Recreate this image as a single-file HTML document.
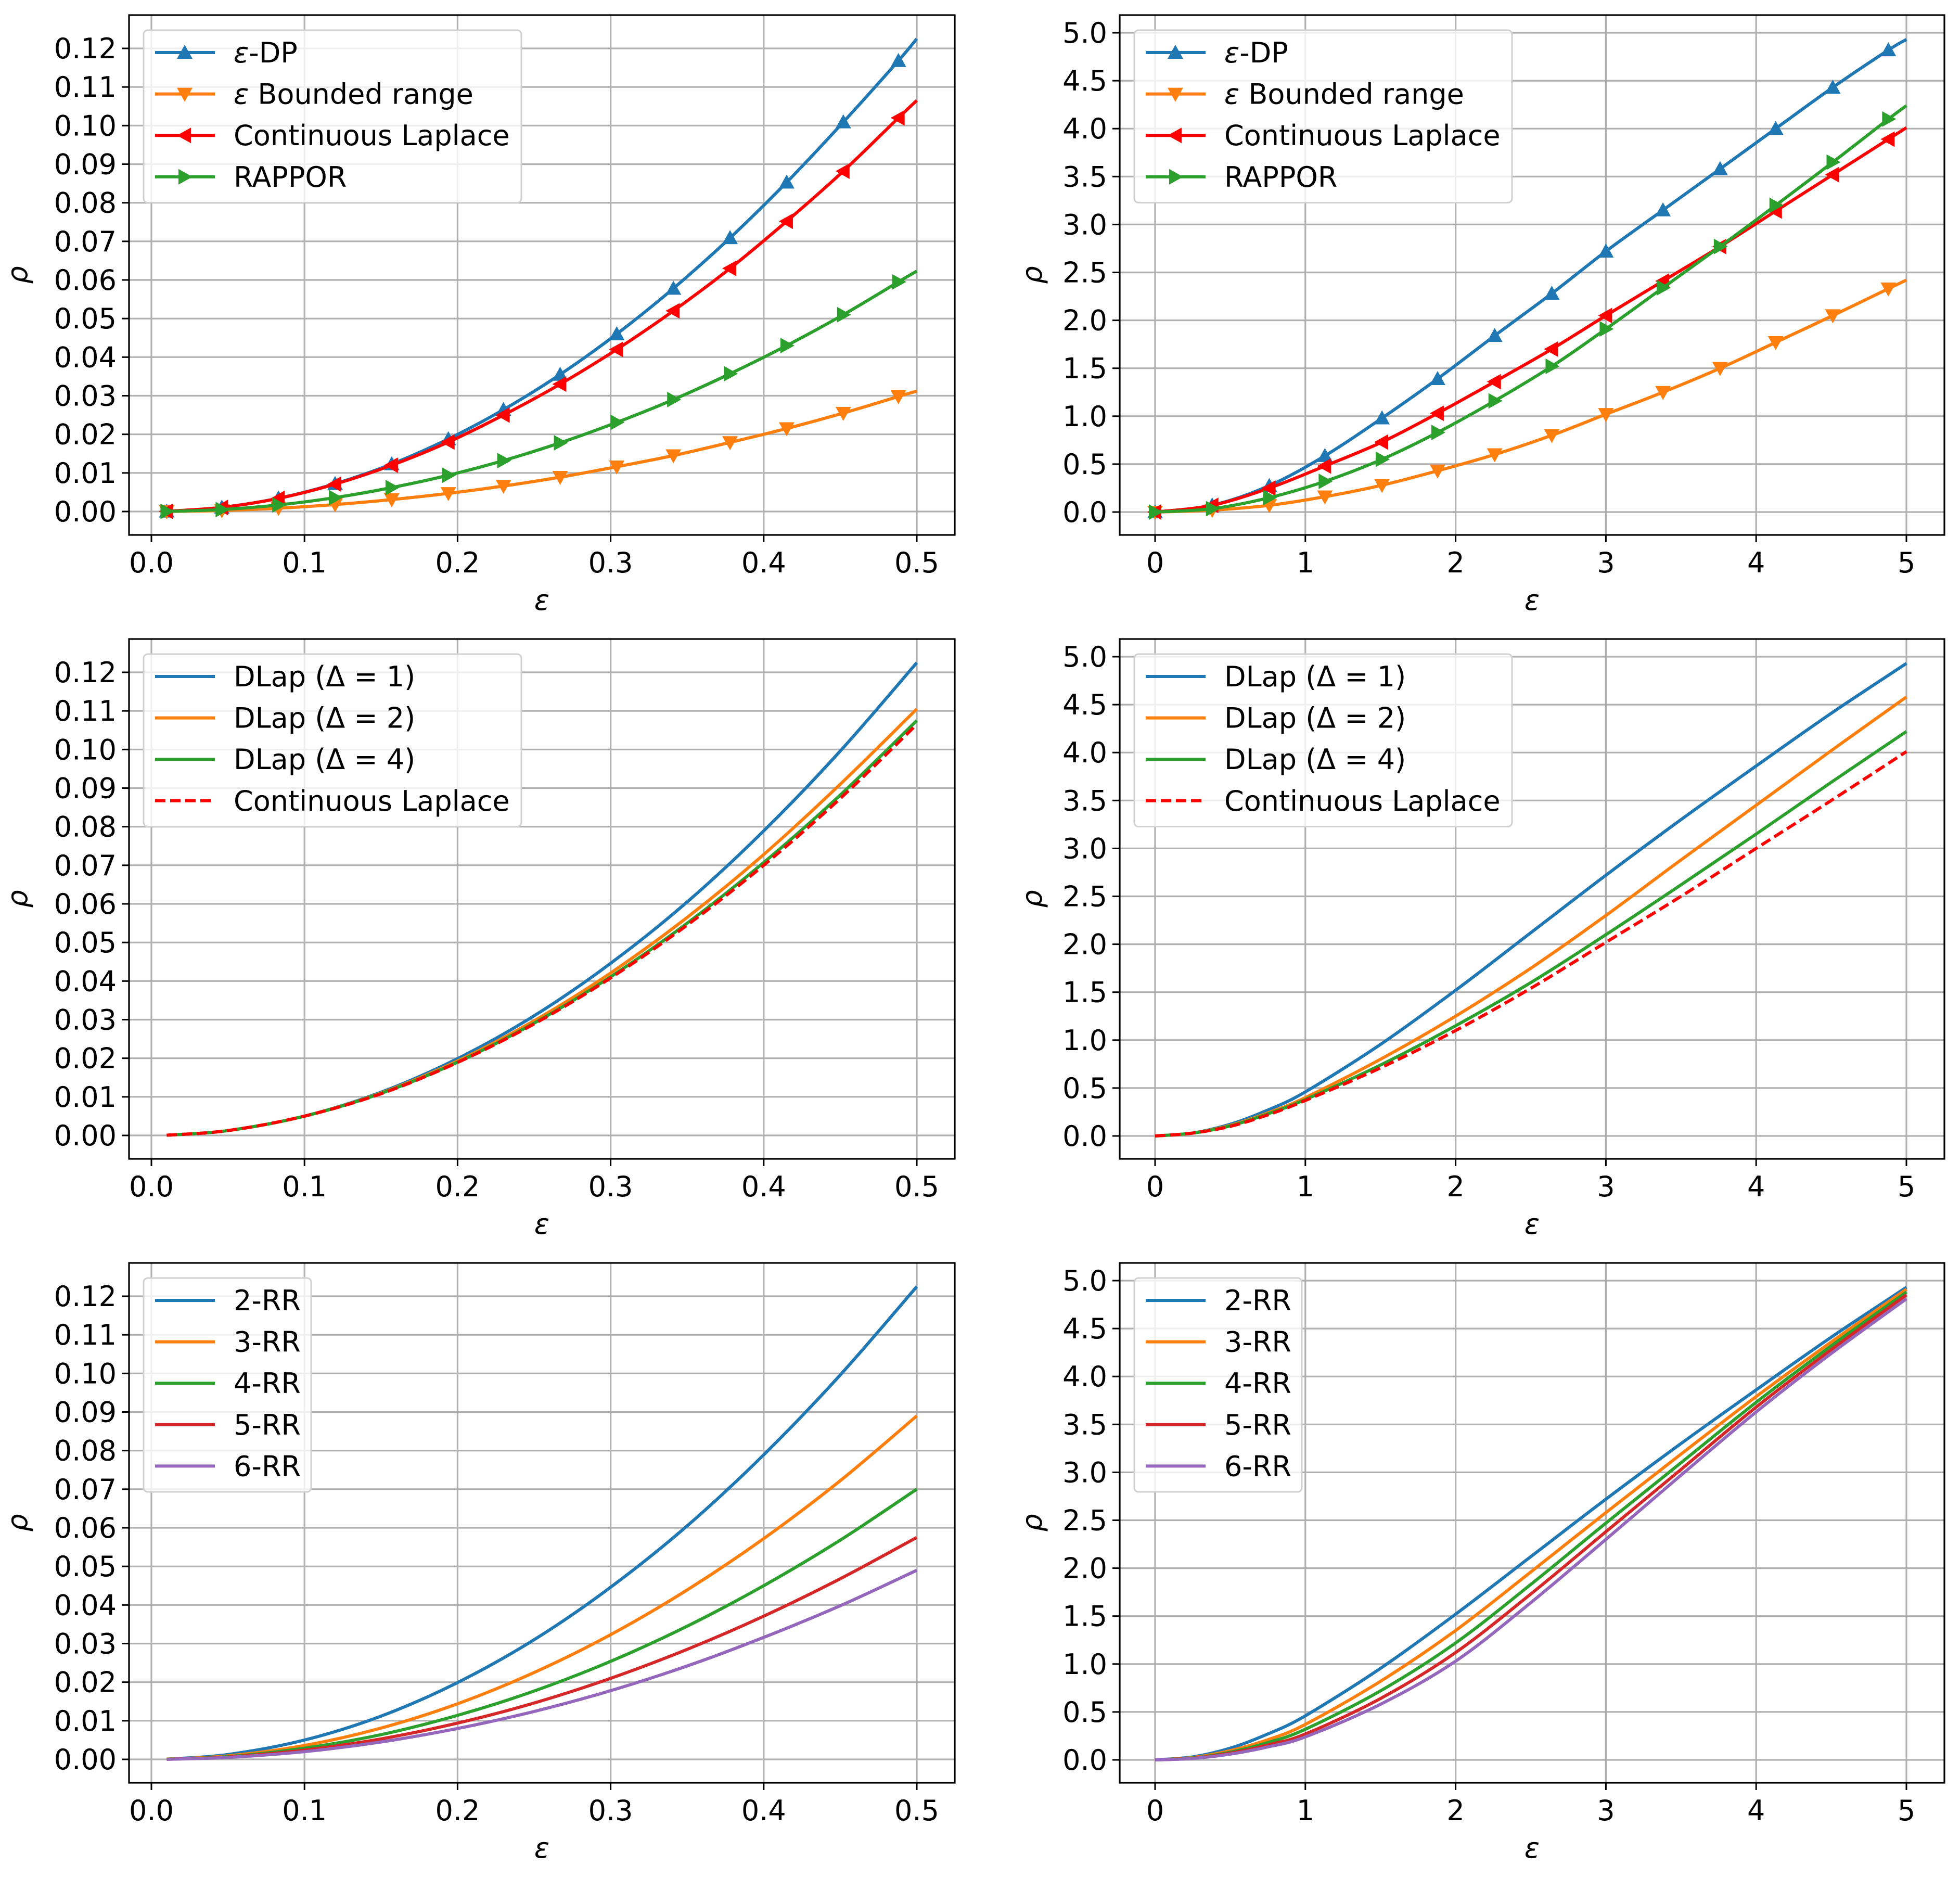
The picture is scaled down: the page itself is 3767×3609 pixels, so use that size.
<!DOCTYPE html>
<html><head><meta charset="utf-8"><style>
html,body{margin:0;padding:0;background:#fff}
svg{display:block;font-family:"DejaVu Sans","Liberation Sans",sans-serif}
</style></head><body>
<svg id="fig" width="3767" height="3609" viewBox="0 0 3767 3609" xmlns="http://www.w3.org/2000/svg"></svg>
<script>
// ---- data ----
const xSmallMk = [0.01,0.046,0.083,0.12,0.157,0.194,0.23,0.267,0.304,0.341,0.378,0.415,0.452,0.488,0.5];
const tlEpsDP = [0.00005,0.00106,0.00344,0.0072,0.0123,0.0188,0.0264,0.0355,0.0460,0.0578,0.0709,0.0853,0.1009,0.1168,0.1225];
const tlBounded = [0.00001,0.00026,0.00086,0.0018,0.0031,0.0047,0.0066,0.0089,0.0116,0.0145,0.0179,0.0215,0.0255,0.0298,0.0312];
const tlLaplace = [0.00005,0.00106,0.0034,0.0071,0.0120,0.0180,0.0250,0.0330,0.0420,0.0520,0.0630,0.0752,0.0882,0.1020,0.1065];
const tlRappor = [0.00003,0.0005,0.0017,0.0036,0.0062,0.0094,0.0132,0.0178,0.0231,0.0290,0.0357,0.0430,0.0510,0.0595,0.0623];
const xLargeMk = [0,0.38,0.76,1.13,1.51,1.88,2.26,2.64,3.0,3.38,3.76,4.13,4.51,4.88,5];
const trEpsDP = [0,0.0714,0.275,0.587,0.98,1.39,1.84,2.28,2.72,3.15,3.58,4.00,4.43,4.82,4.93];
const trBounded = [0,0.02,0.07,0.16,0.28,0.43,0.60,0.80,1.02,1.25,1.50,1.77,2.05,2.33,2.42];
const trLaplace = [0,0.07,0.25,0.48,0.73,1.03,1.36,1.70,2.05,2.41,2.77,3.14,3.52,3.89,4.01];
const trRappor = [0,0.035,0.15,0.32,0.55,0.83,1.16,1.52,1.91,2.34,2.77,3.20,3.65,4.10,4.24];
const xSmall = [0.01,0.05,0.1,0.15,0.2,0.25,0.3,0.35,0.4,0.45,0.5];
const mlD1 = [0.00005,0.00125,0.005,0.0112,0.0199,0.0310,0.0446,0.0605,0.0789,0.0996,0.1225];
const mlD2 = [0.00005,0.00125,0.005,0.0110,0.0193,0.0297,0.0421,0.0565,0.0728,0.0910,0.1105];
const mlD4 = [0.00005,0.00125,0.005,0.0109,0.0190,0.0291,0.0411,0.0550,0.0707,0.0882,0.1075];
const mlLap = [0.00005,0.00125,0.005,0.0108,0.0189,0.0289,0.0408,0.0545,0.0700,0.0873,0.1065];
const xLarge = [0,0.25,0.5,0.75,1,1.5,2,2.5,3,3.5,4,4.5,5];
const mrD1 = [0,0.031,0.122,0.27,0.46,0.955,1.52,2.12,2.72,3.30,3.86,4.41,4.93];
const mrD2 = [0,0.03,0.11,0.24,0.40,0.80,1.25,1.75,2.30,2.88,3.45,4.02,4.58];
const mrD4 = [0,0.03,0.105,0.23,0.38,0.74,1.15,1.60,2.10,2.62,3.15,3.69,4.22];
const mrLap = [0,0.03,0.10,0.22,0.37,0.71,1.10,1.54,2.02,2.50,3.00,3.50,4.01];
const blRR2 = [0.00005,0.00125,0.005,0.0112,0.0199,0.0310,0.0446,0.0605,0.0789,0.0996,0.1225];
const blRR3 = [0.00004,0.0009,0.0036,0.0081,0.0144,0.0225,0.0323,0.0439,0.0572,0.0722,0.0890];
const blRR4 = [0.00003,0.0007,0.0029,0.0064,0.0114,0.0177,0.0254,0.0345,0.0450,0.0568,0.0700];
const blRR5 = [0.00002,0.0006,0.0024,0.0053,0.0094,0.0146,0.0210,0.0285,0.0371,0.0468,0.0575];
const blRR6 = [0.00002,0.0005,0.0020,0.0045,0.0080,0.0124,0.0178,0.0242,0.0316,0.0398,0.0490];
const brRR2 = [0,0.031,0.122,0.27,0.46,0.955,1.52,2.12,2.72,3.30,3.86,4.41,4.93];
const brRR3 = [0,0.024,0.096,0.21,0.37,0.82,1.35,1.96,2.58,3.19,3.79,4.36,4.91];
const brRR4 = [0,0.02,0.08,0.18,0.32,0.72,1.22,1.83,2.47,3.10,3.73,4.32,4.88];
const brRR5 = [0,0.017,0.07,0.155,0.27,0.64,1.12,1.73,2.38,3.03,3.68,4.28,4.85];
const brRR6 = [0,0.015,0.06,0.135,0.24,0.58,1.03,1.64,2.30,2.97,3.63,4.24,4.81];
const yTicksSmall = [0,0.01,0.02,0.03,0.04,0.05,0.06,0.07,0.08,0.09,0.10,0.11,0.12];
const yTickLabelsSmall = ["0.00","0.01","0.02","0.03","0.04","0.05","0.06","0.07","0.08","0.09","0.10","0.11","0.12"];
const yTicksLarge = [0,0.5,1,1.5,2,2.5,3,3.5,4,4.5,5];
const yTickLabelsLarge = ["0.0","0.5","1.0","1.5","2.0","2.5","3.0","3.5","4.0","4.5","5.0"];
const xTicksSmall = [0,0.1,0.2,0.3,0.4,0.5];
const xTickLabelsSmall = ["0.0","0.1","0.2","0.3","0.4","0.5"];
const xTicksLarge = [0,1,2,3,4,5];
const xTickLabelsLarge = ["0","1","2","3","4","5"];

const C = {blue:"#1f77b4",orange:"#ff7f0e",green:"#2ca02c",red:"#ff0000",red2:"#d62728",purple:"#9467bd"};
const NS = "http://www.w3.org/2000/svg";
const FS = 54;
const svg = document.getElementById('fig');
function mk(tag, attrs, parent){const e=document.createElementNS(NS,tag);for(const k in attrs)e.setAttribute(k,attrs[k]);(parent||svg).appendChild(e);return e;}

function smoothPath(pts){
  let d="M"+pts[0][0].toFixed(1)+","+pts[0][1].toFixed(1);
  for(let i=0;i<pts.length-1;i++){
    const p0=pts[Math.max(0,i-1)],p1=pts[i],p2=pts[i+1],p3=pts[Math.min(pts.length-1,i+2)];
    const c1=[p1[0]+(p2[0]-p0[0])/6,p1[1]+(p2[1]-p0[1])/6];
    const c2=[p2[0]-(p3[0]-p1[0])/6,p2[1]-(p3[1]-p1[1])/6];
    d+=" C"+c1[0].toFixed(1)+","+c1[1].toFixed(1)+" "+c2[0].toFixed(1)+","+c2[1].toFixed(1)+" "+p2[0].toFixed(1)+","+p2[1].toFixed(1);
  }
  return d;
}
function marker(type,x,y,color,g){
  const s=15;let pts;
  if(type==='up')pts=[[x,y-s],[x-s,y+s*0.8],[x+s,y+s*0.8]];
  else if(type==='down')pts=[[x,y+s],[x-s,y-s*0.8],[x+s,y-s*0.8]];
  else if(type==='left')pts=[[x-s,y],[x+s*0.8,y-s],[x+s*0.8,y+s]];
  else pts=[[x+s,y],[x-s*0.8,y-s],[x-s*0.8,y+s]];
  const m=mk('polygon',{points:pts.map(p=>p.join(',')).join(' '),fill:color},g);
  
  
}

function panel(cfg){
  const L=cfg.left,R=cfg.right,T=cfg.top,B=T+999;
  const x0=cfg.x0px,x1=cfg.x1px,y0=T+cfg.y0off,y1=T+cfg.y1off;
  const sx=v=>x0+(v-cfg.xd[0])/(cfg.xd[1]-cfg.xd[0])*(x1-x0);
  const sy=v=>y0+(v-cfg.yd[0])/(cfg.yd[1]-cfg.yd[0])*(y1-y0);
  const g=mk('g',{});
  
  
  cfg.xt.forEach((v,i)=>{
    const l=mk('line',{x1:sx(v),x2:sx(v),y1:T,y2:B,stroke:"#b0b0b0","stroke-width":3.2},g);
    
    mk('line',{x1:sx(v),x2:sx(v),y1:B,y2:B+14,stroke:"#000","stroke-width":3},g);
    const t=mk('text',{x:sx(v),y:B+72,"font-size":FS,"text-anchor":"middle",fill:"#000"},g);
    t.textContent=cfg.xtl[i];
    
  });
  cfg.yt.forEach((v,i)=>{
    const l=mk('line',{x1:L,x2:R,y1:sy(v),y2:sy(v),stroke:"#b0b0b0","stroke-width":3.2},g);
    
    mk('line',{x1:L-14,x2:L,y1:sy(v),y2:sy(v),stroke:"#000","stroke-width":3},g);
    const t=mk('text',{x:L-24,y:sy(v)+19,"font-size":FS,"text-anchor":"end",fill:"#000"},g);
    t.textContent=cfg.ytl[i];
    
  });
  cfg.series.forEach(s=>{
    const pts=s.x.map((v,i)=>[sx(v),sy(s.y[i])]);
    const p=mk('path',{d:smoothPath(pts),fill:"none",stroke:s.c,"stroke-width":6,"stroke-dasharray":s.dash?"20,9":"none"},g);
    
    
    if(s.m){for(let i=0;i<pts.length-1;i++)marker(s.m,pts[i][0],pts[i][1],s.c,g);}
  });
  const fr=mk('rect',{x:L,y:T,width:R-L,height:B-T,fill:"none",stroke:"#000","stroke-width":3.2},g);
  
  const xl=mk('text',{x:(L+R)/2,y:B+144,"font-size":FS,"font-style":"italic","text-anchor":"middle"},g);
  xl.textContent="ε";
  const yl=mk('text',{x:0,y:0,"font-size":FS,"font-style":"italic","text-anchor":"middle",transform:`translate(${L-cfg.ylOff},${(T+B)/2}) rotate(-90)`},g);
  yl.textContent="ρ";
  const n=cfg.series.length;
  const lg=mk('g',{},g);
  
  const lx=L+28,ly=T+29;
  mk('rect',{x:lx,y:ly,width:cfg.legW,height:13+n*79.6,rx:8,fill:"#fff","fill-opacity":0.8,stroke:"#d0d0d0","stroke-width":3},lg);
  cfg.series.forEach((s,i)=>{
    const yy=ly+43+i*79.6;
    const e=mk('g',{},lg);
    
    
    mk('line',{x1:lx+22,x2:lx+137,y1:yy,y2:yy,stroke:s.c,"stroke-width":6,"stroke-dasharray":s.dash?"20,9":"none"},e);
    if(s.m)marker(s.m,lx+79,yy,s.c,e);
    const t=mk('text',{x:lx+173,y:yy+19,"font-size":FS,fill:"#000"},e);
    t.innerHTML=s.label;
  });
}

const smallBase={left:248,right:1835,x0px:291,x1px:1762,xd:[0,0.5],yd:[0,0.12],y0off:954,y1off:64,xt:xTicksSmall,xtl:xTickLabelsSmall,yt:yTicksSmall,ytl:yTickLabelsSmall,ylOff:196,legW:726};
const largeBase={left:2152,right:3737,x0px:2220,x1px:3664,xd:[0,5],yd:[0,5],y0off:955,y1off:34,xt:xTicksLarge,xtl:xTickLabelsLarge,yt:yTicksLarge,ytl:yTickLabelsLarge,ylOff:150,legW:726};
const tops=[29,1228,2427];
const eps='<tspan font-style="italic">ε</tspan>';
panel(Object.assign({},smallBase,{name:'panel-top-left',top:tops[0],series:[
 {id:'line-eps-dp',x:xSmallMk,y:tlEpsDP,c:C.blue,m:'up',label:eps+'-DP'},
 {id:'line-bounded-range',x:xSmallMk,y:tlBounded,c:C.orange,m:'down',label:eps+' Bounded range'},
 {id:'line-continuous-laplace',x:xSmallMk,y:tlLaplace,c:C.red,m:'left',label:'Continuous Laplace'},
 {id:'line-rappor',x:xSmallMk,y:tlRappor,c:C.green,m:'right',label:'RAPPOR'}]}));
panel(Object.assign({},largeBase,{name:'panel-top-right',top:tops[0],series:[
 {id:'line-eps-dp',x:xLargeMk,y:trEpsDP,c:C.blue,m:'up',label:eps+'-DP'},
 {id:'line-bounded-range',x:xLargeMk,y:trBounded,c:C.orange,m:'down',label:eps+' Bounded range'},
 {id:'line-continuous-laplace',x:xLargeMk,y:trLaplace,c:C.red,m:'left',label:'Continuous Laplace'},
 {id:'line-rappor',x:xLargeMk,y:trRappor,c:C.green,m:'right',label:'RAPPOR'}]}));
panel(Object.assign({},smallBase,{name:'panel-middle-left',top:tops[1],series:[
 {id:'line-dlap-1',x:xSmall,y:mlD1,c:C.blue,label:'DLap (Δ = 1)'},
 {id:'line-dlap-2',x:xSmall,y:mlD2,c:C.orange,label:'DLap (Δ = 2)'},
 {id:'line-dlap-4',x:xSmall,y:mlD4,c:C.green,label:'DLap (Δ = 4)'},
 {id:'line-continuous-laplace',x:xSmall,y:mlLap,c:C.red,dash:true,label:'Continuous Laplace'}]}));
panel(Object.assign({},largeBase,{name:'panel-middle-right',top:tops[1],series:[
 {id:'line-dlap-1',x:xLarge,y:mrD1,c:C.blue,label:'DLap (Δ = 1)'},
 {id:'line-dlap-2',x:xLarge,y:mrD2,c:C.orange,label:'DLap (Δ = 2)'},
 {id:'line-dlap-4',x:xLarge,y:mrD4,c:C.green,label:'DLap (Δ = 4)'},
 {id:'line-continuous-laplace',x:xLarge,y:mrLap,c:C.red,dash:true,label:'Continuous Laplace'}]}));
panel(Object.assign({},smallBase,{name:'panel-bottom-left',top:tops[2],legW:322,series:[
 {id:'line-2-rr',x:xSmall,y:blRR2,c:C.blue,label:'2-RR'},
 {id:'line-3-rr',x:xSmall,y:blRR3,c:C.orange,label:'3-RR'},
 {id:'line-4-rr',x:xSmall,y:blRR4,c:C.green,label:'4-RR'},
 {id:'line-5-rr',x:xSmall,y:blRR5,c:C.red2,label:'5-RR'},
 {id:'line-6-rr',x:xSmall,y:blRR6,c:C.purple,label:'6-RR'}]}));
panel(Object.assign({},largeBase,{name:'panel-bottom-right',top:tops[2],legW:322,series:[
 {id:'line-2-rr',x:xLarge,y:brRR2,c:C.blue,label:'2-RR'},
 {id:'line-3-rr',x:xLarge,y:brRR3,c:C.orange,label:'3-RR'},
 {id:'line-4-rr',x:xLarge,y:brRR4,c:C.green,label:'4-RR'},
 {id:'line-5-rr',x:xLarge,y:brRR5,c:C.red2,label:'5-RR'},
 {id:'line-6-rr',x:xLarge,y:brRR6,c:C.purple,label:'6-RR'}]}));
</script>
</body></html>
